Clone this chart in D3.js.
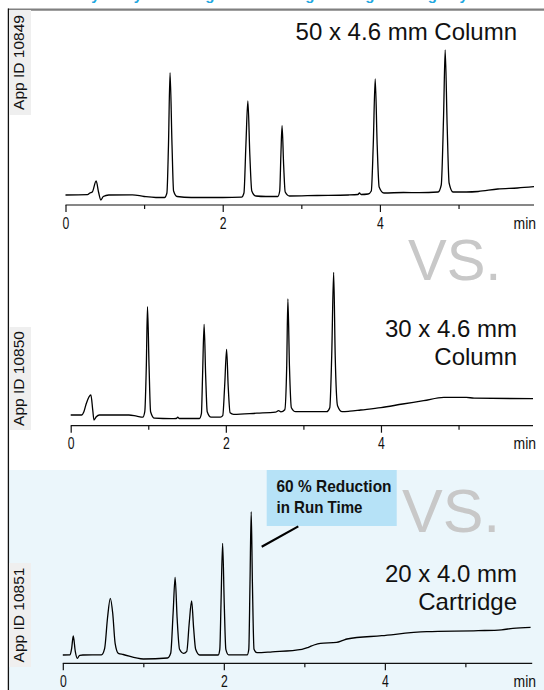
<!DOCTYPE html>
<html>
<head>
<meta charset="utf-8">
<script src="https://cdn.jsdelivr.net/npm/d3@7"></script>
<style>
  html, body { margin: 0; padding: 0; background: #ffffff; }
  svg { display: block; }
</style>
</head>
<body>
<svg id="chart" width="544" height="690"></svg>
<script>
// ---------- DATA (time in min, signal in arbitrary detector units) ----------
const tickValues = [0, 1, 2, 3, 4, 5];
const tickLabels = ["0", "", "2", "", "4", ""];
const axisUnit = "min";

const panelTitles = [["50 x 4.6 mm Column"], ["30 x 4.6 mm", "Column"], ["20 x 4.0 mm", "Cartridge"]];
const appIds = ["App ID 10849", "App ID 10850", "App ID 10851"];
const annotationLines = ["60 % Reduction", "in Run Time"];
const vsLabel = "VS.";
const headerText = "Faster Analysis by Reducing Column Length Using Cartridge Systems";

// 50 x 4.6 mm column
const trace50 = [
  [0, 10], [0.28, 10.3], [0.31, 12], [0.34, 13], [0.39, 24], [0.42, 13], [0.45, 5], [0.48, 8.5], [0.55, 10],
  [0.85, 10.2], [1.0, 8.5], [1.15, 7.5], [1.26, 7.5], [1.29, 12], [1.31, 60], [1.33, 132.3], [1.355, 60],
  [1.375, 14], [1.42, 8.5], [1.6, 7.5], [2.0, 7.5], [2.24, 7.8], [2.27, 12], [2.295, 60], [2.32, 104],
  [2.345, 50], [2.37, 14], [2.42, 9], [2.55, 8.5], [2.70, 8.5], [2.725, 14], [2.74, 50], [2.755, 79.3],
  [2.775, 40], [2.795, 13], [2.85, 9], [3.2, 9.5], [3.6, 10], [3.72, 10.5], [3.74, 12], [3.76, 10.5],
  [3.85, 11], [3.89, 14], [3.915, 60], [3.94, 126], [3.965, 60], [3.99, 18], [4.05, 12], [4.3, 12.5],
  [4.5, 12.3], [4.74, 13], [4.78, 20], [4.81, 90], [4.83, 155], [4.855, 80], [4.88, 22], [4.93, 13],
  [5.1, 13], [5.25, 13.5], [5.5, 16], [5.75, 17], [5.96, 18.3]
];

// 30 x 4.6 mm column
const trace30 = [
  [0, 10.7], [0.14, 10.7], [0.17, 14], [0.2, 22], [0.26, 30.7], [0.285, 15], [0.30, 5.7], [0.33, 9],
  [0.37, 10.7], [0.75, 10.7], [0.85, 9.5], [0.93, 8.5], [0.955, 14], [0.975, 60], [0.99, 119], [1.01, 60],
  [1.03, 14], [1.08, 7.5], [1.30, 7], [1.36, 7.2], [1.38, 8.5], [1.40, 7.2], [1.66, 7.2], [1.685, 12],
  [1.70, 50], [1.72, 101.4], [1.74, 50], [1.76, 14], [1.81, 8.5], [1.93, 8.5], [1.96, 10], [1.985, 40],
  [2.01, 76.4], [2.03, 40], [2.055, 13], [2.1, 11.4], [2.4, 12.5], [2.64, 13.5], [2.68, 15], [2.71, 13.8],
  [2.76, 16], [2.785, 60], [2.80, 126.7], [2.82, 60], [2.845, 18], [2.9, 14], [3.30, 14], [3.34, 18],
  [3.365, 70], [3.39, 153.4], [3.41, 70], [3.44, 20], [3.5, 14], [3.6, 14.5], [3.74, 15.7], [4.0, 18],
  [4.28, 21.7], [4.55, 25], [4.81, 28.4], [5.1, 28.4], [5.2, 27.5], [5.96, 27]
];

// 20 x 4.0 mm cartridge
const trace20 = [
  [0, 8.3], [0.09, 8.5], [0.11, 15], [0.13, 27.3], [0.155, 12], [0.18, 5], [0.21, 8], [0.25, 8.3],
  [0.48, 8.5], [0.52, 15], [0.555, 45], [0.59, 65], [0.62, 50], [0.65, 20], [0.69, 10], [0.75, 8.8],
  [1.0, 4.3], [1.30, 5.3], [1.34, 10], [1.37, 50], [1.395, 86], [1.42, 45], [1.45, 14], [1.50, 10],
  [1.54, 12], [1.57, 40], [1.60, 62.3], [1.625, 35], [1.65, 14], [1.70, 8.3], [1.93, 8.3], [1.95, 14],
  [1.965, 60], [1.985, 120], [2.005, 60], [2.025, 14], [2.06, 8.5], [2.29, 8.5], [2.31, 14], [2.325, 80],
  [2.34, 151.6], [2.355, 80], [2.375, 14], [2.41, 10.6], [2.6, 11.5], [2.97, 14], [3.05, 16], [3.12, 18.3],
  [3.20, 20], [3.40, 21], [3.48, 23], [3.53, 24.3], [3.96, 27.6], [4.52, 31.6], [5.16, 32.6], [5.45, 33.5],
  [5.59, 35], [5.81, 36]
];

const traces = [trace50, trace30, trace20];
const timeMax = [5.96, 5.96, 5.83];

// ---------- LAYOUT ----------
const svg = d3.select("#chart");
const sansFont = "'Liberation Sans', Arial, Helvetica, sans-serif";

const layout = [
  { x0: 65.5, x1: 534, axisY: 205, idBox: [10, 115] },
  { x0: 70.7, x1: 533, axisY: 425.7, idBox: [327, 430] },
  { x0: 62.8, x1: 532.2, axisY: 663.3, idBox: [563, 667] }
];

// header (cut off at the top edge, as in the source page)
svg.append("text")
  .attr("x", 10).attr("y", 0.2)
  .attr("font-family", sansFont).attr("font-weight", "bold").attr("font-size", 15)
  .attr("fill", "#22a7e0")
  .text(headerText);

// third panel light blue background
svg.append("rect").attr("x", 9).attr("y", 470).attr("width", 535).attr("height", 220).attr("fill", "#ebf6fb");

// frame lines
svg.append("line").attr("x1", 8).attr("x2", 544).attr("y1", 9.6).attr("y2", 9.6)
  .attr("stroke", "#808080").attr("stroke-width", 2.4);
svg.append("line").attr("x1", 8.4).attr("x2", 8.4).attr("y1", 8.4).attr("y2", 690)
  .attr("stroke", "#111").attr("stroke-width", 1.3);

layout.forEach((L, i) => {
  const x = d3.scaleLinear().domain([0, timeMax[i]]).range([L.x0, L.x1]);
  const y = d3.scaleLinear().domain([0, 160]).range([L.axisY, L.axisY - 160]);
  const g = svg.append("g");

  // App ID label box
  g.append("rect").attr("x", 9).attr("y", L.idBox[0]).attr("width", 22)
    .attr("height", L.idBox[1] - L.idBox[0]).attr("fill", "#efefef");
  g.append("text")
    .attr("transform", `translate(24,${(L.idBox[0] + L.idBox[1]) / 2}) rotate(-90)`)
    .attr("text-anchor", "middle")
    .attr("font-family", sansFont).attr("font-size", 15.5).attr("fill", "#111")
    .text(appIds[i]);

  // axis
  const axis = d3.axisBottom(x).tickValues(tickValues)
    .tickSize(0).tickFormat((d, k) => tickLabels[k]);
  const ag = g.append("g").attr("transform", `translate(0,${L.axisY})`).call(axis);
  ag.select(".domain").attr("d", `M${L.x0},0H${L.x1}`).attr("stroke", "#111").attr("stroke-width", 1.2);
  ag.selectAll(".tick line")
    .attr("y2", (d, k) => tickLabels[k] ? 7 : 4)
    .attr("stroke", "#111").attr("stroke-width", 1.2);
  ag.selectAll(".tick text")
    .attr("y", 0).attr("dy", 0)
    .attr("transform", "translate(0,23.5) scale(0.74,1)")
    .attr("font-family", sansFont).attr("font-size", 16.5).attr("fill", "#111");
  g.append("text").attr("x", 513.5).attr("y", L.axisY + 23.5)
    .attr("textLength", 22.5).attr("lengthAdjust", "spacingAndGlyphs")
    .attr("font-family", sansFont).attr("font-size", 16.5).attr("fill", "#111")
    .text(axisUnit);

  // trace
  const line = d3.line().x(d => x(d[0])).y(d => y(d[1])).curve(d3.curveMonotoneX);
  g.append("path").datum(traces[i]).attr("d", line)
    .attr("fill", "none").attr("stroke", "#000").attr("stroke-width", 1.3)
    .attr("stroke-linejoin", "round");
});

// VS. labels
[[408, 280, 58], [402, 531.5, 61]].forEach(v => {
  svg.append("text").attr("x", v[0]).attr("y", v[1])
    .attr("font-family", sansFont).attr("font-size", v[2]).attr("fill", "#c8c8c8")
    .text(vsLabel);
});

// Panel titles
const titlePos = [[40], [337, 365], [582, 610]];
panelTitles.forEach((lines, i) => {
  lines.forEach((s, k) => {
    svg.append("text").attr("x", 517).attr("y", titlePos[i][k]).attr("text-anchor", "end")
      .attr("font-family", sansFont).attr("font-size", 24).attr("fill", "#111")
      .text(s);
  });
});

// annotation
svg.append("rect").attr("x", 266.7).attr("y", 470).attr("width", 130).attr("height", 56).attr("fill", "#b6e2f7");
annotationLines.forEach((s, k) => {
  svg.append("text").attr("x", 276.5).attr("y", [491.7, 513.3][k])
    .attr("textLength", [115, 86][k]).attr("lengthAdjust", "spacingAndGlyphs")
    .attr("font-family", sansFont).attr("font-weight", "bold").attr("font-size", 16.5).attr("fill", "#111")
    .text(s);
});
svg.append("line").attr("x1", 261.7).attr("y1", 546.7).attr("x2", 298.3).attr("y2", 526.4)
  .attr("stroke", "#000").attr("stroke-width", 2.2);
</script>
</body>
</html>
